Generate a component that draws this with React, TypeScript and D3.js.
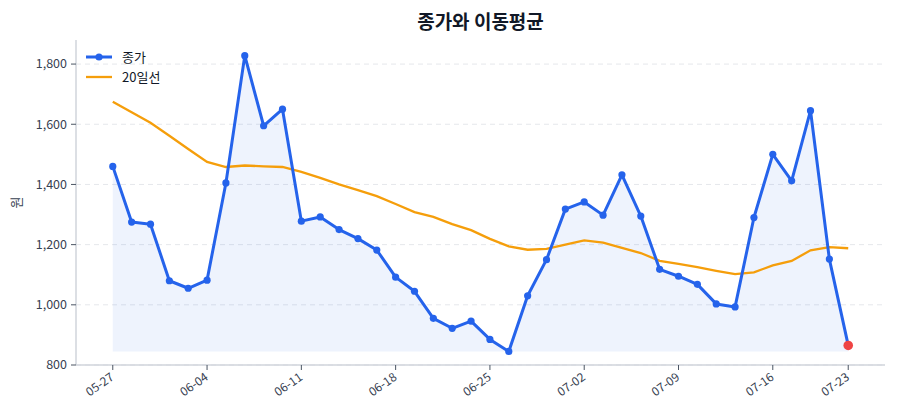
import React from 'react';
import * as d3 from 'd3';

// index-based x axis, labels only at every 5th point (+ last)
const tickIndex = [0, 5, 10, 15, 20, 25, 30, 35, 39];
const tickLabels = ['05-27', '06-04', '06-11', '06-18', '06-25', '07-02', '07-09', '07-16', '07-23'];

const closes = [
  1460, 1275, 1268, 1080, 1055, 1082, 1405, 1828, 1595, 1650,
  1278, 1292, 1250, 1220, 1182, 1092, 1045, 955, 922, 946,
  885, 845, 1030, 1150, 1318, 1342, 1298, 1432, 1295, 1118,
  1095, 1068, 1003, 993, 1290, 1500, 1412, 1645, 1152, 865,
];

const ma20 = [
  1675, 1640, 1605, 1562, 1518, 1475, 1458, 1463, 1460, 1458,
  1442, 1422, 1400, 1381, 1361, 1335, 1308, 1292, 1268, 1248,
  1219, 1194, 1183, 1186, 1200, 1214, 1207, 1189, 1172, 1146,
  1136, 1125, 1113, 1102, 1108, 1131, 1146, 1181, 1192, 1188,
];

const yTicks = [800, 1000, 1200, 1400, 1600, 1800];

const W = 900, H = 420;
const M = { left: 76, right: 885, top: 40, bottom: 365 };
const FONT = '"Noto Sans CJK KR", "Noto Sans", sans-serif';

const BLUE = '#2563eb';
const ORANGE = '#f59e0b';
const RED = '#ef4444';

export default function App() {
  const n = closes.length;
  const pad = (n - 1) * 0.05;
  const x = d3.scaleLinear().domain([-pad, n - 1 + pad]).range([M.left, M.right]);
  const y = d3.scaleLinear().domain([800, 1880]).range([M.bottom, M.top]);

  const idx = d3.range(n);
  const minClose = d3.min(closes) as number;

  const line = d3.line<number>().x(i => x(i)).y(i => y(closes[i]));
  const maLine = d3.line<number>().x(i => x(i)).y(i => y(ma20[i]));
  const area = d3.area<number>().x(i => x(i)).y0(y(minClose)).y1(i => y(closes[i]));

  return (
    <svg width={W} height={H} style={{ position: 'absolute', left: 0, top: 0, background: '#fff' }} fontFamily={FONT}>
      <text x={(M.left + M.right) / 2} y={29} textAnchor="middle" fontSize={19} fontWeight={700} fill="#111827">
        종가와 이동평균
      </text>

      {/* grid */}
      {yTicks.map(t => (
        <line key={t} x1={M.left} x2={M.right} y1={y(t)} y2={y(t)} stroke="#e5e7eb" strokeDasharray="5,4" strokeWidth={1} />
      ))}

      {/* spines */}
      <line x1={M.left} x2={M.left} y1={M.top} y2={M.bottom} stroke="#d1d5db" strokeWidth={1.5} />
      <line x1={M.left} x2={M.right} y1={M.bottom} y2={M.bottom} stroke="#d1d5db" strokeWidth={1.5} />

      {/* y axis */}
      {yTicks.map(t => (
        <g key={t} transform={`translate(${M.left},${y(t)})`}>
          <line x1={-5} x2={0} stroke="#4b5563" strokeWidth={1} />
          <text x={-9} dy="0.35em" textAnchor="end" fontSize={12.5} fill="#374151">{d3.format(',')(t)}</text>
        </g>
      ))}
      <text transform={`translate(21,${(M.top + M.bottom) / 2}) rotate(-90)`} textAnchor="middle" fontSize={13} fill="#374151">원</text>

      {/* x axis */}
      {tickIndex.map((ti, k) => (
        <g key={ti} transform={`translate(${x(ti)},${M.bottom})`}>
          <line y1={0} y2={5} stroke="#4b5563" strokeWidth={1} />
          <text transform="translate(2,14) rotate(-35)" textAnchor="end" fontSize={12} fill="#374151">{tickLabels[k]}</text>
        </g>
      ))}

      {/* marks */}
      <path d={area(idx) || ''} fill={BLUE} fillOpacity={0.08} />
      <path d={maLine(idx) || ''} fill="none" stroke={ORANGE} strokeWidth={2.3} />
      <path d={line(idx) || ''} fill="none" stroke={BLUE} strokeWidth={3} strokeLinejoin="round" />
      {idx.slice(0, n - 1).map(i => (
        <circle key={i} cx={x(i)} cy={y(closes[i])} r={3.6} fill={BLUE} />
      ))}
      <circle cx={x(n - 1)} cy={y(closes[n - 1])} r={4.8} fill={RED} />

      {/* legend */}
      <g transform="translate(86,57)">
        <line x1={0} x2={26} stroke={BLUE} strokeWidth={3} />
        <circle cx={13} cy={0} r={3.6} fill={BLUE} />
        <text x={36} dy="0.35em" fontSize={13} fill="#111827">종가</text>
        <line x1={0} x2={26} y1={20} y2={20} stroke={ORANGE} strokeWidth={2.3} />
        <text x={36} y={20} dy="0.35em" fontSize={13} fill="#111827">20일선</text>
      </g>
    </svg>
  );
}
